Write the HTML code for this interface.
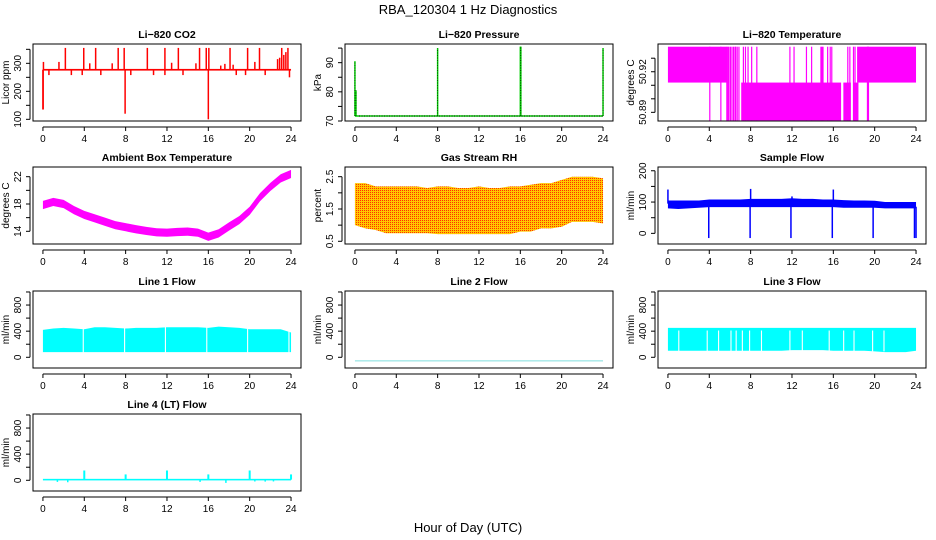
<!DOCTYPE html>
<html><head><meta charset="utf-8"><style>
html,body{margin:0;padding:0;background:#fff;}
svg{display:block;font-family:"Liberation Sans",Arial,sans-serif;}
</style></head><body>
<svg id="c" width="936" height="540" viewBox="0 0 936 540" xmlns="http://www.w3.org/2000/svg">
<defs>
<pattern id="rhpat" width="2" height="2" patternUnits="userSpaceOnUse">
<rect width="2" height="2" fill="#ffc800"/><rect width="1" height="1" fill="#ff3000"/>
</pattern>
</defs>
<text x="468" y="14" font-size="13" text-anchor="middle">RBA_120304  1 Hz Diagnostics</text>
<text x="468" y="532" font-size="13" text-anchor="middle">Hour of Day (UTC)</text>
</svg>
<script>
// ---- data ----
const xTicks=[0,4,8,12,16,20,24];
const hours=[0,1,2,3,4,5,6,7,8,9,10,11,12,13,14,15,16,17,18,19,20,21,22,23,24];
// CO2
const co2Base=277;
const co2UpHours=[0.05,2.17,3.95,5.1,7.28,7.86,10.1,11.8,13.1,15.15,15.8,16.05,18.1,19.8,20.95,23.1,23.7,1.55,4.53,6.7,12.45,14.8,20.5,17.2,17.6,18.4,22.7,22.9,23.3,23.5];
const co2UpVals=[305,355,355,355,355,355,355,355,355,355,355,355,355,355,355,355,355,305,300,300,302,300,305,292,298,295,315,320,330,340];
const co2DownHours=[0.0,0.02,7.95,16.0,0.58,2.75,3.8,5.6,8.5,10.7,11.8,13.55,18.7,19.6,21.5,23.85];
const co2DownVals=[135,135,120,100,258,258,258,258,258,258,258,258,258,258,258,250];
// Pressure
const presBase=71.7;
const presSpikeHours=[0,0.1,8,16,16.05,24];
const presSpikeVals=[90.5,80.5,95,95.5,95.5,95];
// Li-820 temperature
const ltUpper=[50.912,50.9385];
const ltLower=[50.884,50.912];
const ltBandStart=[0,18.3,7.09,16.97,17.98];
const ltBandEnd=[5.67,24,16.75,17.7,18.43];
const ltBandLevel=[1,1,0,0,0];
const ltLineHours=[4.05,5.12,5.7,5.8,5.9,6.05,6.2,6.35,6.5,6.55,6.7,6.87,7.3,7.5,7.75,8.1,8.6,11.8,12.2,13.4,13.9,14.8,14.9,15.0,15.45,15.7,15.85,17.4,17.6,17.95,18.1,19.3,19.4];
// Ambient box temperature
const ambCenter=[17.85,18.3,18.0,17.1,16.4,15.9,15.4,14.9,14.6,14.3,14.05,13.85,13.8,13.9,13.95,13.8,13.2,13.7,14.7,15.65,17.0,19.0,20.5,21.75,22.4];
const ambHalf=0.6;
// Gas stream RH
const rhHi=[2.3,2.3,2.2,2.2,2.2,2.2,2.2,2.15,2.2,2.2,2.15,2.15,2.2,2.15,2.15,2.2,2.2,2.25,2.3,2.3,2.4,2.5,2.5,2.5,2.45];
const rhLo=[1.0,0.9,0.85,0.75,0.75,0.75,0.75,0.75,0.72,0.72,0.72,0.72,0.72,0.72,0.72,0.72,0.8,0.8,0.9,0.9,0.95,1.1,1.1,1.1,1.05];
// Sample flow
const sfHi=[105,105,105,105,108,108,108,108,110,110,110,110,112,110,110,108,108,106,105,105,104,100,100,100,100];
const sfLo=[80,78,80,82,84,84,84,84,84,84,84,84,84,84,84,84,84,82,82,82,82,80,80,80,80];
const sfDownHours=[3.95,7.95,11.9,15.9,19.85,23.85,24];
const sfDownVals=[-15,-15,-15,-15,-15,-15,-15];
const sfUpHours=[0,8,12,16];
const sfUpVals=[140,142,118,140];
// Line flows
const l1Hi=[420,440,450,440,430,460,460,450,440,450,450,450,460,460,460,460,450,470,460,450,430,430,430,430,380];
const l1Lo=80;
const l1GapHours=[3.9,7.9,11.85,15.85,19.8,23.8];
const l2Val=-55;
const l3Hi=450;
const l3Lo=[100,100,100,100,100,100,100,100,100,100,100,100,110,110,110,110,100,100,100,100,90,80,80,80,100];
const l3GapHours=[1.05,3.8,4.9,6.1,6.6,7.2,7.9,9.05,11.8,13.0,15.6,17.0,18.0,19.8,20.9];
const l4Base=10;
const l4SpikeHours=[4,8,12,16,20,24];
const l4SpikeVals=[150,90,150,90,150,90];
const l4DipHours=[1.4,2.4,15.2,17.7,20.5,21.5,22.3];
const l4DipVals=[-25,-30,-25,-40,-18,-20,-18];

// ---- drawing ----
const svg=document.getElementById('c');
const NS='http://www.w3.org/2000/svg';
function mk(tag,attrs,name){const e=document.createElementNS(NS,tag);for(const k in attrs)e.setAttribute(k,attrs[k]);


svg.appendChild(e);return e;}
const colX=[33,345,658], rowY=[44,167,291,414], PW=268, PH=77;
function panel(col,row,ymin,ymax,yticks,ylabels,title,ylab,key){
  const L=colX[col],T=rowY[row];
  const p={L,T,
    x:h=>L+9.93+h*(248.1/24),
    y:v=>T+PH-(v-ymin)/(ymax-ymin)*PH};
  mk('rect',{x:L,y:T,width:PW,height:PH,fill:'none',stroke:'#000','stroke-width':1},key+'-plot-box');
  const t=mk('text',{x:L+PW/2,y:T-6,'font-size':10.5,'font-weight':'bold','text-anchor':'middle'},key+'-title');t.textContent=title;
  const ax=T+PH+6;
  mk('line',{x1:p.x(0),y1:ax,x2:p.x(24),y2:ax,stroke:'#000'},key+'-x-axis');
  xTicks.forEach(h=>{mk('line',{x1:p.x(h),y1:ax,x2:p.x(h),y2:ax+4,stroke:'#000'},key+'-x-tick');
    const tt=mk('text',{x:p.x(h),y:ax+15,'font-size':10,'text-anchor':'middle'},key+'-x-tick-label');tt.textContent=h;});
  const axl=L-3;
  mk('line',{x1:axl,y1:p.y(yticks[0]),x2:axl,y2:p.y(yticks[yticks.length-1]),stroke:'#000'},key+'-y-axis');
  yticks.forEach(v=>mk('line',{x1:axl-4,y1:p.y(v),x2:axl,y2:p.y(v),stroke:'#000'},key+'-y-tick'));
  ylabels.forEach(v=>{const yy=p.y(v);const tt=mk('text',{x:L-12,y:yy,'font-size':10,'text-anchor':'middle',transform:`rotate(-90 ${L-12} ${yy})`},key+'-y-tick-label');tt.textContent=v;});
  const yl=mk('text',{x:L-24,y:T+PH/2,'font-size':10,'text-anchor':'middle',transform:`rotate(-90 ${L-24} ${T+PH/2})`},key+'-y-axis-title');yl.textContent=ylab;
  return p;
}
function vline(p,h,a,b,c,w,name){return mk('line',{x1:p.x(h),y1:p.y(a),x2:p.x(h),y2:p.y(b),stroke:c,'stroke-width':w},name);}
function band(p,hi,lo,fill,name){let pts=[];hours.forEach((h,i)=>pts.push(p.x(h)+','+p.y(hi[i])));
  for(let i=hours.length-1;i>=0;i--)pts.push(p.x(hours[i])+','+p.y(lo[i]));
  return mk('polygon',{points:pts.join(' '),fill:fill},name);}

// CO2
let p=panel(0,0,94,369,[100,150,200,250,300,350],[100,200,300],'Li−820 CO2','Licor ppm','co2');
mk('rect',{x:p.x(0),y:p.y(co2Base+3),width:p.x(24)-p.x(0),height:p.y(co2Base-3)-p.y(co2Base+3),fill:'#f00'},'co2-baseline');
co2UpHours.forEach((h,i)=>vline(p,h,co2Base,co2UpVals[i],'#f00',1.5,'co2-up-spike'));
co2DownHours.forEach((h,i)=>vline(p,h,co2Base,co2DownVals[i],'#f00',1.5,'co2-down-spike'));

// Pressure
p=panel(1,0,70,96.4,[70,75,80,85,90,95],[70,80,90],'Li−820 Pressure','kPa','pressure');
mk('line',{x1:p.x(0),y1:p.y(presBase),x2:p.x(24),y2:p.y(presBase),stroke:'#00d000','stroke-width':1.5},'pressure-line');
mk('line',{x1:p.x(0.4),y1:p.y(presBase),x2:p.x(24),y2:p.y(presBase),stroke:'#000','stroke-width':1,'stroke-dasharray':'1 1.5'},'pressure-dots');
presSpikeHours.forEach((h,i)=>{vline(p,h,presBase,presSpikeVals[i],'#00d000',1.5,'pressure-spike');vline(p,h,presBase,presSpikeVals[i],'#000',0.6,'pressure-spike-dots').setAttribute('stroke-dasharray','1 1.5');});

// Li temp
p=panel(2,0,50.8836,50.9405,[50.89,50.90,50.91,50.92,50.93],['50.89','50.92'],'Li−820 Temperature','degrees C','litemp');
ltBandStart.forEach((s,i)=>{const lv=ltBandLevel[i]?ltUpper:ltLower;
  mk('rect',{x:p.x(s),y:p.y(lv[1]),width:p.x(ltBandEnd[i])-p.x(s),height:p.y(lv[0])-p.y(lv[1]),fill:'#f0f'},'litemp-band');});
ltLineHours.forEach(h=>vline(p,h,ltLower[0],ltUpper[1],'#f0f',1.2,'litemp-transition'));

// Ambient
p=panel(0,1,12.14,23.42,[14,16,18,20,22],[14,18,22],'Ambient Box Temperature','degrees C','ambient');
band(p,ambCenter.map(v=>v+ambHalf),ambCenter.map(v=>v-ambHalf),'#f0f','ambient-band');

// RH
p=panel(1,1,0.416,2.80,[0.5,1,1.5,2,2.5],[0.5,1.5,2.5],'Gas Stream RH','percent','rh');
band(p,rhHi,rhLo,'url(#rhpat)','rh-band');

// Sample flow
p=panel(2,1,-34,212,[0,50,100,150,200],[0,100,200],'Sample Flow','ml/min','sampleflow');
band(p,sfHi,sfLo,'#0000ff','sampleflow-band');
sfDownHours.forEach((h,i)=>vline(p,h,85,sfDownVals[i],'#00f',1.5,'sampleflow-down-spike'));
sfUpHours.forEach((h,i)=>vline(p,h,95,sfUpVals[i],'#00f',1.5,'sampleflow-up-spike'));

// Line 1
p=panel(0,2,-164,1015,[0,200,400,600,800,1000],[0,400,800],'Line 1 Flow','ml/min','line1');
band(p,l1Hi,hours.map(()=>l1Lo),'#0ff','line1-band');
l1GapHours.forEach(h=>vline(p,h,l1Lo-10,500,'#fff',1.1,'line1-gap'));

// Line 2
p=panel(1,2,-164,1015,[0,200,400,600,800,1000],[0,400,800],'Line 2 Flow','ml/min','line2');
mk('line',{x1:p.x(0),y1:p.y(l2Val),x2:p.x(24),y2:p.y(l2Val),stroke:'#7fdede','stroke-width':1},'line2-series');

// Line 3
p=panel(2,2,-164,1015,[0,200,400,600,800,1000],[0,400,800],'Line 3 Flow','ml/min','line3');
band(p,hours.map(()=>l3Hi),l3Lo,'#0ff','line3-band');
l3GapHours.forEach(h=>vline(p,h,l3Lo[0]-10,l3Hi-40,'#fff',1.1,'line3-gap'));

// Line 4
p=panel(0,3,-164,1015,[0,200,400,600,800,1000],[0,400,800],'Line 4 (LT) Flow','ml/min','line4');
mk('rect',{x:p.x(0),y:p.y(l4Base+12),width:p.x(24)-p.x(0),height:p.y(l4Base-12)-p.y(l4Base+12),fill:'#0ff'},'line4-baseline');
l4SpikeHours.forEach((h,i)=>vline(p,h,l4Base,l4SpikeVals[i],'#0ff',2,'line4-spike'));
l4DipHours.forEach((h,i)=>vline(p,h,l4Base,l4DipVals[i],'#0ff',1.5,'line4-dip'));
</script>
</body></html>
